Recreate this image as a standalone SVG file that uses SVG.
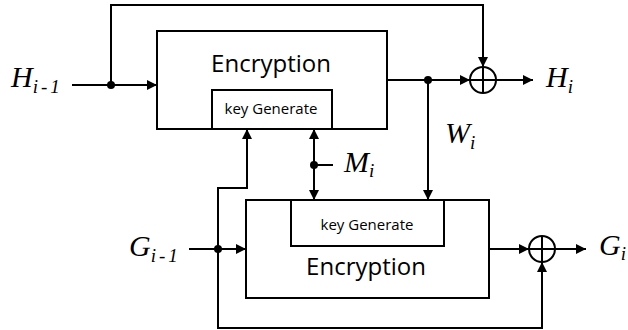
<svg xmlns="http://www.w3.org/2000/svg" width="628" height="330" viewBox="0 0 628 330">
<style>
.box{fill:#fff;stroke:#000;stroke-width:2}
.ln{fill:none;stroke:#000;stroke-width:2}
.enc{font-family:"Open Sans",sans-serif;font-size:24px;text-anchor:middle;fill:#000}
.kg{font-family:"Open Sans",sans-serif;font-size:15px;text-anchor:middle;fill:#000}
.var{font-family:"Liberation Serif",serif;font-style:italic;font-size:30px;fill:#000}
.sub{font-family:"Liberation Serif",serif;font-style:italic;font-size:19px;fill:#000}
</style>
<defs>
<marker id="ah" viewBox="0 0 10 10" refX="10" refY="5" markerWidth="10" markerHeight="10" markerUnits="userSpaceOnUse" orient="auto">
<path d="M0,0 L10,5 L0,10 z" fill="#000"/>
</marker>
</defs>
<g id="enc-top">
<rect class="box" x="157" y="31" width="230" height="98"/>
<text class="enc" x="271" y="72">Encryption</text>
</g>
<g id="kg-top">
<rect class="box" x="212" y="90" width="120" height="39"/>
<text class="kg" x="271" y="114">key Generate</text>
</g>
<g id="enc-bot">
<rect class="box" x="246" y="200" width="243" height="98"/>
<text class="enc" x="366" y="275">Encryption</text>
</g>
<g id="kg-bot">
<rect class="box" x="291" y="200" width="153" height="46"/>
<text class="kg" x="367" y="230">key Generate</text>
</g>
<g id="xor-top">
<circle class="ln" cx="483" cy="80" r="13"/>
<path class="ln" d="M470,80 H496 M483,67 V93"/>
</g>
<g id="xor-bot">
<circle class="ln" cx="542" cy="249" r="13"/>
<path class="ln" d="M529,249 H555 M542,236 V262"/>
</g>
<g id="labels">
<text x="11" y="87"><tspan class="var">H</tspan><tspan class="sub" dy="6" textLength="27">i-1</tspan></text>
<text x="546" y="87"><tspan class="var">H</tspan><tspan class="sub" dy="6">i</tspan></text>
<text x="445" y="143"><tspan class="var">W</tspan><tspan class="sub" dy="6">i</tspan></text>
<text x="344" y="172"><tspan class="var">M</tspan><tspan class="sub" dy="5">i</tspan></text>
<text x="129" y="256"><tspan class="var">G</tspan><tspan class="sub" dy="6" textLength="27">i-1</tspan></text>
<text x="599" y="255"><tspan class="var">G</tspan><tspan class="sub" dy="5">i</tspan></text>
</g>
<g id="connectors">
<path class="ln" d="M72,85 H157" marker-end="url(#ah)"/>
<path class="ln" d="M111,85 V5 H483 V67" marker-end="url(#ah)"/>
<path class="ln" d="M387,80 H470" marker-end="url(#ah)"/>
<path class="ln" d="M496,80 H533" marker-end="url(#ah)"/>
<path class="ln" d="M428,80 V200" marker-end="url(#ah)"/>
<path class="ln" d="M314,165 V129" marker-end="url(#ah)"/>
<path class="ln" d="M314,165 V200" marker-end="url(#ah)"/>
<path class="ln" d="M314,165 H333"/>
<path class="ln" d="M189,249 H246" marker-end="url(#ah)"/>
<path class="ln" d="M218,249 V188 H247 V129" marker-end="url(#ah)"/>
<path class="ln" d="M218,249 V328 H542 V262" marker-end="url(#ah)"/>
<path class="ln" d="M489,249 H529" marker-end="url(#ah)"/>
<path class="ln" d="M555,249 H586" marker-end="url(#ah)"/>
<circle cx="111" cy="85" r="4"/>
<circle cx="428" cy="80" r="4"/>
<circle cx="314" cy="165" r="4"/>
<circle cx="218" cy="249" r="4"/>
</g>
</svg>
